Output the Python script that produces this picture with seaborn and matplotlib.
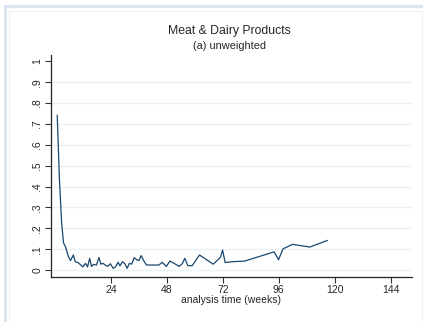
import matplotlib
matplotlib.use("Agg")
import matplotlib.pyplot as plt
import seaborn as sns
import pandas as pd

weeks = [1, 1.9, 2.9, 3.7, 4.6, 5.7, 6.7, 7.9, 8.7, 10, 11, 12, 13.1, 14, 14.9, 15.7,
         16.6, 17.8, 18.9, 19.7, 20.6, 21.8, 22.8, 23.8, 25, 26, 27.1, 27.9, 29, 30,
         31, 31.9, 32.9, 34, 35, 36, 37, 38.1, 39.3, 44.6, 46, 47.8, 49.3, 51.4, 53.3,
         54.7, 55.7, 57, 58.9, 62, 67.9, 71, 71.9, 73, 76.4, 81.4, 94, 95.9, 97.8,
         101.9, 109.3, 116.9]
hazard = [0.742, 0.446, 0.223, 0.13, 0.11, 0.067, 0.045, 0.072, 0.04, 0.035, 0.025,
          0.015, 0.032, 0.015, 0.056, 0.017, 0.027, 0.024, 0.06, 0.028, 0.032, 0.022,
          0.018, 0.03, 0.008, 0.015, 0.037, 0.02, 0.04, 0.03, 0.008, 0.032, 0.028,
          0.059, 0.05, 0.045, 0.069, 0.044, 0.024, 0.024, 0.037, 0.017, 0.043, 0.03,
          0.017, 0.032, 0.056, 0.021, 0.021, 0.072, 0.028, 0.061, 0.096, 0.036, 0.04,
          0.043, 0.087, 0.049, 0.101, 0.123, 0.11, 0.142]
xticks = [24, 48, 72, 96, 120, 144]
yticks = [0, .1, .2, .3, .4, .5, .6, .7, .8, .9, 1]
yticklabels = ["0", ".1", ".2", ".3", ".4", ".5", ".6", ".7", ".8", ".9", "1"]

df = pd.DataFrame({"t": weeks, "h": hazard})

sns.set_theme(style="white")
plt.rcParams["font.family"] = ["Liberation Sans", "DejaVu Sans"]

W, H = 423, 322
fig = plt.figure(figsize=(W / 100, H / 100), dpi=100)
fig.patch.set_facecolor("white")
# light blue frame (top and left) plus faint inner border
fig.add_artist(plt.Rectangle((5 / W, -0.05), 1.2, 1.05 - 6 / H, transform=fig.transFigure,
                             fill=False, edgecolor="#dbe5f1", linewidth=2.2))
fig.add_artist(plt.Rectangle((9 / W, -0.05), (421.5 - 9) / W, 1.05 - 10.5 / H,
                             transform=fig.transFigure, fill=False,
                             edgecolor="#f0f0f0", linewidth=0.8))
ax = fig.add_axes([50.7 / W, 1 - 276.7 / H, (411.7 - 50.7) / W, (276.7 - 55) / H])

for y in yticks[:-1]:
    ax.axhline(y, color="#eaf2f3", lw=1, zorder=0)

sns.lineplot(data=df, x="t", y="h", ax=ax, color="#1a476f", lw=0.9)

ax.set_xlim(-1.8, 153)
ax.set_ylim(-0.032, 1.03)
ax.set_xticks(xticks)
ax.set_yticks(yticks)
ax.set_yticklabels(yticklabels, rotation=90, va="center")
ax.tick_params(axis="both", direction="out", length=4, width=0.8, color="#333333",
               labelsize=7.5, pad=2, left=True, bottom=True)
for s in ["top", "right"]:
    ax.spines[s].set_visible(False)
for s in ["left", "bottom"]:
    ax.spines[s].set_color("#222222")
    ax.spines[s].set_linewidth(0.9)
ax.set_xlabel("analysis time (weeks)", fontsize=7.5, labelpad=0)
ax.set_ylabel("")

fig.text(229 / W, 1 - 31 / H, "Meat & Dairy Products", ha="center", va="center", fontsize=8.8)
fig.text(229 / W, 1 - 46 / H, "(a) unweighted", ha="center", va="center", fontsize=7.9)

fig.savefig("out.png", dpi=100)
